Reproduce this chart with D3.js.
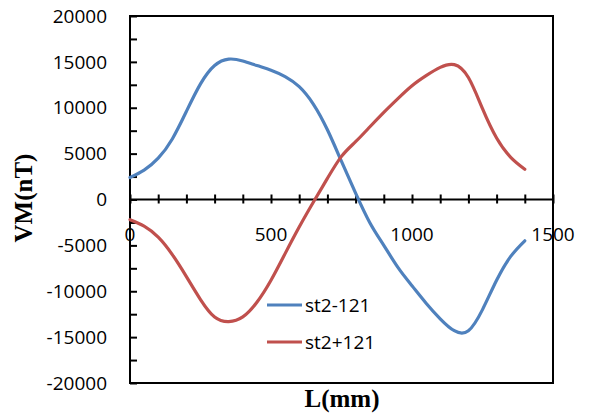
<!DOCTYPE html>
<html>
<head>
<meta charset="utf-8">
<script src="https://cdn.jsdelivr.net/npm/d3@7"></script>
<style>
  body { margin: 0; background: #fff; }
  svg { display: block; }
  .tick_lbl { font-family: "Open Sans", "Liberation Sans", sans-serif; font-size: 19px; fill: #000; }
  .axis_title { font-family: "Liberation Serif", "DejaVu Serif", serif; font-weight: bold; font-size: 25px; fill: #000; }
</style>
</head>
<body>
<svg id="chart" width="591" height="420"></svg>
<script>

/* Werte */
var l_values = [0, 50, 100, 150, 200, 250, 300, 350, 400, 450, 500, 550, 600, 650, 700,
                750, 800, 850, 900, 950, 1000, 1050, 1100, 1150, 1200, 1250, 1300, 1350, 1400];

var vm_minus = [2400, 3200, 4500, 6600, 9600, 12600, 14600, 15300, 15100, 14600, 14100, 13400, 12300, 10400, 7600,
                4150, 700, -2500, -5000, -7400, -9400, -11300, -13000, -14300, -14300, -12000, -8800, -6200, -4500];

var vm_plus  = [-2200, -2900, -4100, -6000, -8400, -10900, -12800, -13300, -12800, -11200, -8800, -5900, -3000, -300, 2300,
                4700, 6300, 7900, 9500, 11000, 12400, 13500, 14400, 14700, 13300, 9900, 6700, 4600, 3300];

var series_names = ["st2-121", "st2+121"];
var series_colors = ["#4f81bd", "#c0504d"];

var x_ticks = [0, 500, 1000, 1500];
var y_ticks = [-20000, -15000, -10000, -5000, 0, 5000, 10000, 15000, 20000];

var svg = d3.select("#chart");

var plot = { left: 130, right: 553, top: 16, bottom: 383 };

var x = d3.scaleLinear().domain([0, 1500]).range([plot.left, plot.right]);
var y = d3.scaleLinear().domain([-20000, 20000]).range([plot.bottom, plot.top]);

/* Rahmen */
svg.append("rect")
    .attr("x", plot.left).attr("y", plot.top)
    .attr("width", plot.right - plot.left).attr("height", plot.bottom - plot.top)
    .attr("fill", "none").attr("stroke", "#000").attr("stroke-width", 2);

/* Y-Achse: Striche nach innen */
var y_axis = d3.axisRight(y)
    .tickValues(d3.range(-20000, 20001, 2500))
    .tickSize(7)
    .tickFormat("");
var y_g = svg.append("g").attr("transform", "translate(" + plot.left + ",0)").call(y_axis);
y_g.select(".domain").remove();
y_g.selectAll(".tick line").attr("stroke", "#000").attr("stroke-width", 2);

svg.selectAll(".y_lbl")
    .data(y_ticks)
    .enter().append("text")
    .attr("class", "tick_lbl")
    .attr("x", 107)
    .attr("y", function(d) { return y(d); })
    .attr("dy", "0.35em")
    .attr("text-anchor", "end")
    .text(function(d) { return d; });

/* X-Achse bei Null, Striche kreuzen die Linie */
var x_axis = d3.axisBottom(x)
    .tickValues(d3.range(0, 1501, 100))
    .tickSize(4)
    .tickFormat("");
var x_g = svg.append("g").attr("transform", "translate(0," + y(0) + ")").call(x_axis);
x_g.select(".domain").attr("stroke", "#000").attr("stroke-width", 2).attr("d", "M" + plot.left + ",0H" + plot.right);
x_g.selectAll(".tick line").attr("stroke", "#000").attr("stroke-width", 2).attr("y1", -5).attr("y2", 4);

svg.selectAll(".x_lbl")
    .data(x_ticks)
    .enter().append("text")
    .attr("class", "tick_lbl")
    .attr("x", function(d) { return x(d); })
    .attr("y", 241)
    .attr("text-anchor", "middle")
    .text(function(d) { return d; });

/* Kurven */
var line = d3.line()
    .x(function(d) { return x(d[0]); })
    .y(function(d) { return y(d[1]); })
    .curve(d3.curveNatural);

[vm_minus, vm_plus].forEach(function(vals, i) {
    svg.append("path")
        .datum(l_values.map(function(l, k) { return [l, vals[k]]; }))
        .attr("d", line)
        .attr("fill", "none")
        .attr("stroke", series_colors[i])
        .attr("stroke-width", 3.2)
        .attr("stroke-linecap", "round");
});

/* Legende */
var legend = svg.selectAll(".legend")
    .data(series_names)
    .enter().append("g")
    .attr("transform", function(d, i) { return "translate(267," + (305 + i * 37) + ")"; });

legend.append("line")
    .attr("x1", 0).attr("x2", 35)
    .attr("stroke", function(d, i) { return series_colors[i]; })
    .attr("stroke-width", 3.2);

legend.append("text")
    .attr("class", "tick_lbl")
    .attr("x", 38)
    .attr("dy", "0.35em")
    .text(function(d) { return d; });

/* Achsentitel */
svg.append("text")
    .attr("class", "axis_title")
    .attr("x", 342).attr("y", 407)
    .attr("text-anchor", "middle")
    .text("L(mm)");

svg.append("text")
    .attr("class", "axis_title")
    .attr("transform", "translate(32,198) rotate(-90)")
    .attr("text-anchor", "middle")
    .text("VM(nT)");

</script>
</body>
</html>
